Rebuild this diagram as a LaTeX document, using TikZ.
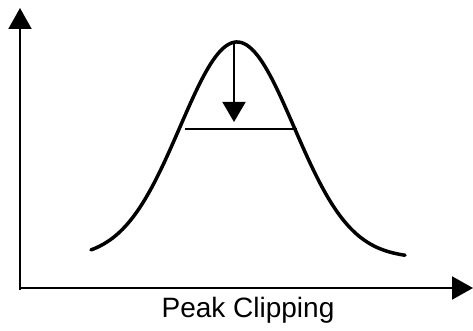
\documentclass[tikz,border=0pt]{standalone}
\usepackage{fontspec}
\setmainfont{Liberation Sans}
\usetikzlibrary{arrows.meta}
\begin{document}
\begin{tikzpicture}[x=1pt,y=-1pt,
  axis/.style={line width=2pt,-{Triangle[length=21pt,width=23pt]}},
  curve/.style={line width=3.5pt,line cap=round},
  thin/.style={line width=1.6pt},
  lbl/.style={font=\fontsize{28}{32}\selectfont,inner sep=0pt,anchor=base}]
\useasboundingbox (0,0) rectangle (473,331);
\coordinate (o) at (20,288);
\coordinate (ytop) at (20,8);
\coordinate (xend) at (473,288);
\draw[axis] (20,290) -- (ytop);
\draw[axis] (19,288) -- (xend);
\draw[curve] plot[domain=91:405,samples=120,smooth] (\x,{258-216*exp(-0.5*((\x-237)/57)^2)});
\coordinate (peak) at (237,42);
\coordinate (tip) at (234,122);
\draw[thin,-{Triangle[length=20pt,width=23pt]}] (234,44) -- (tip);
\coordinate (cl) at (185,129);
\coordinate (cr) at (297,129);
\draw[thin] (cl) -- (cr);
\node[lbl] (t) at (248,317) {Peak Clipping};
\end{tikzpicture}
\end{document}
